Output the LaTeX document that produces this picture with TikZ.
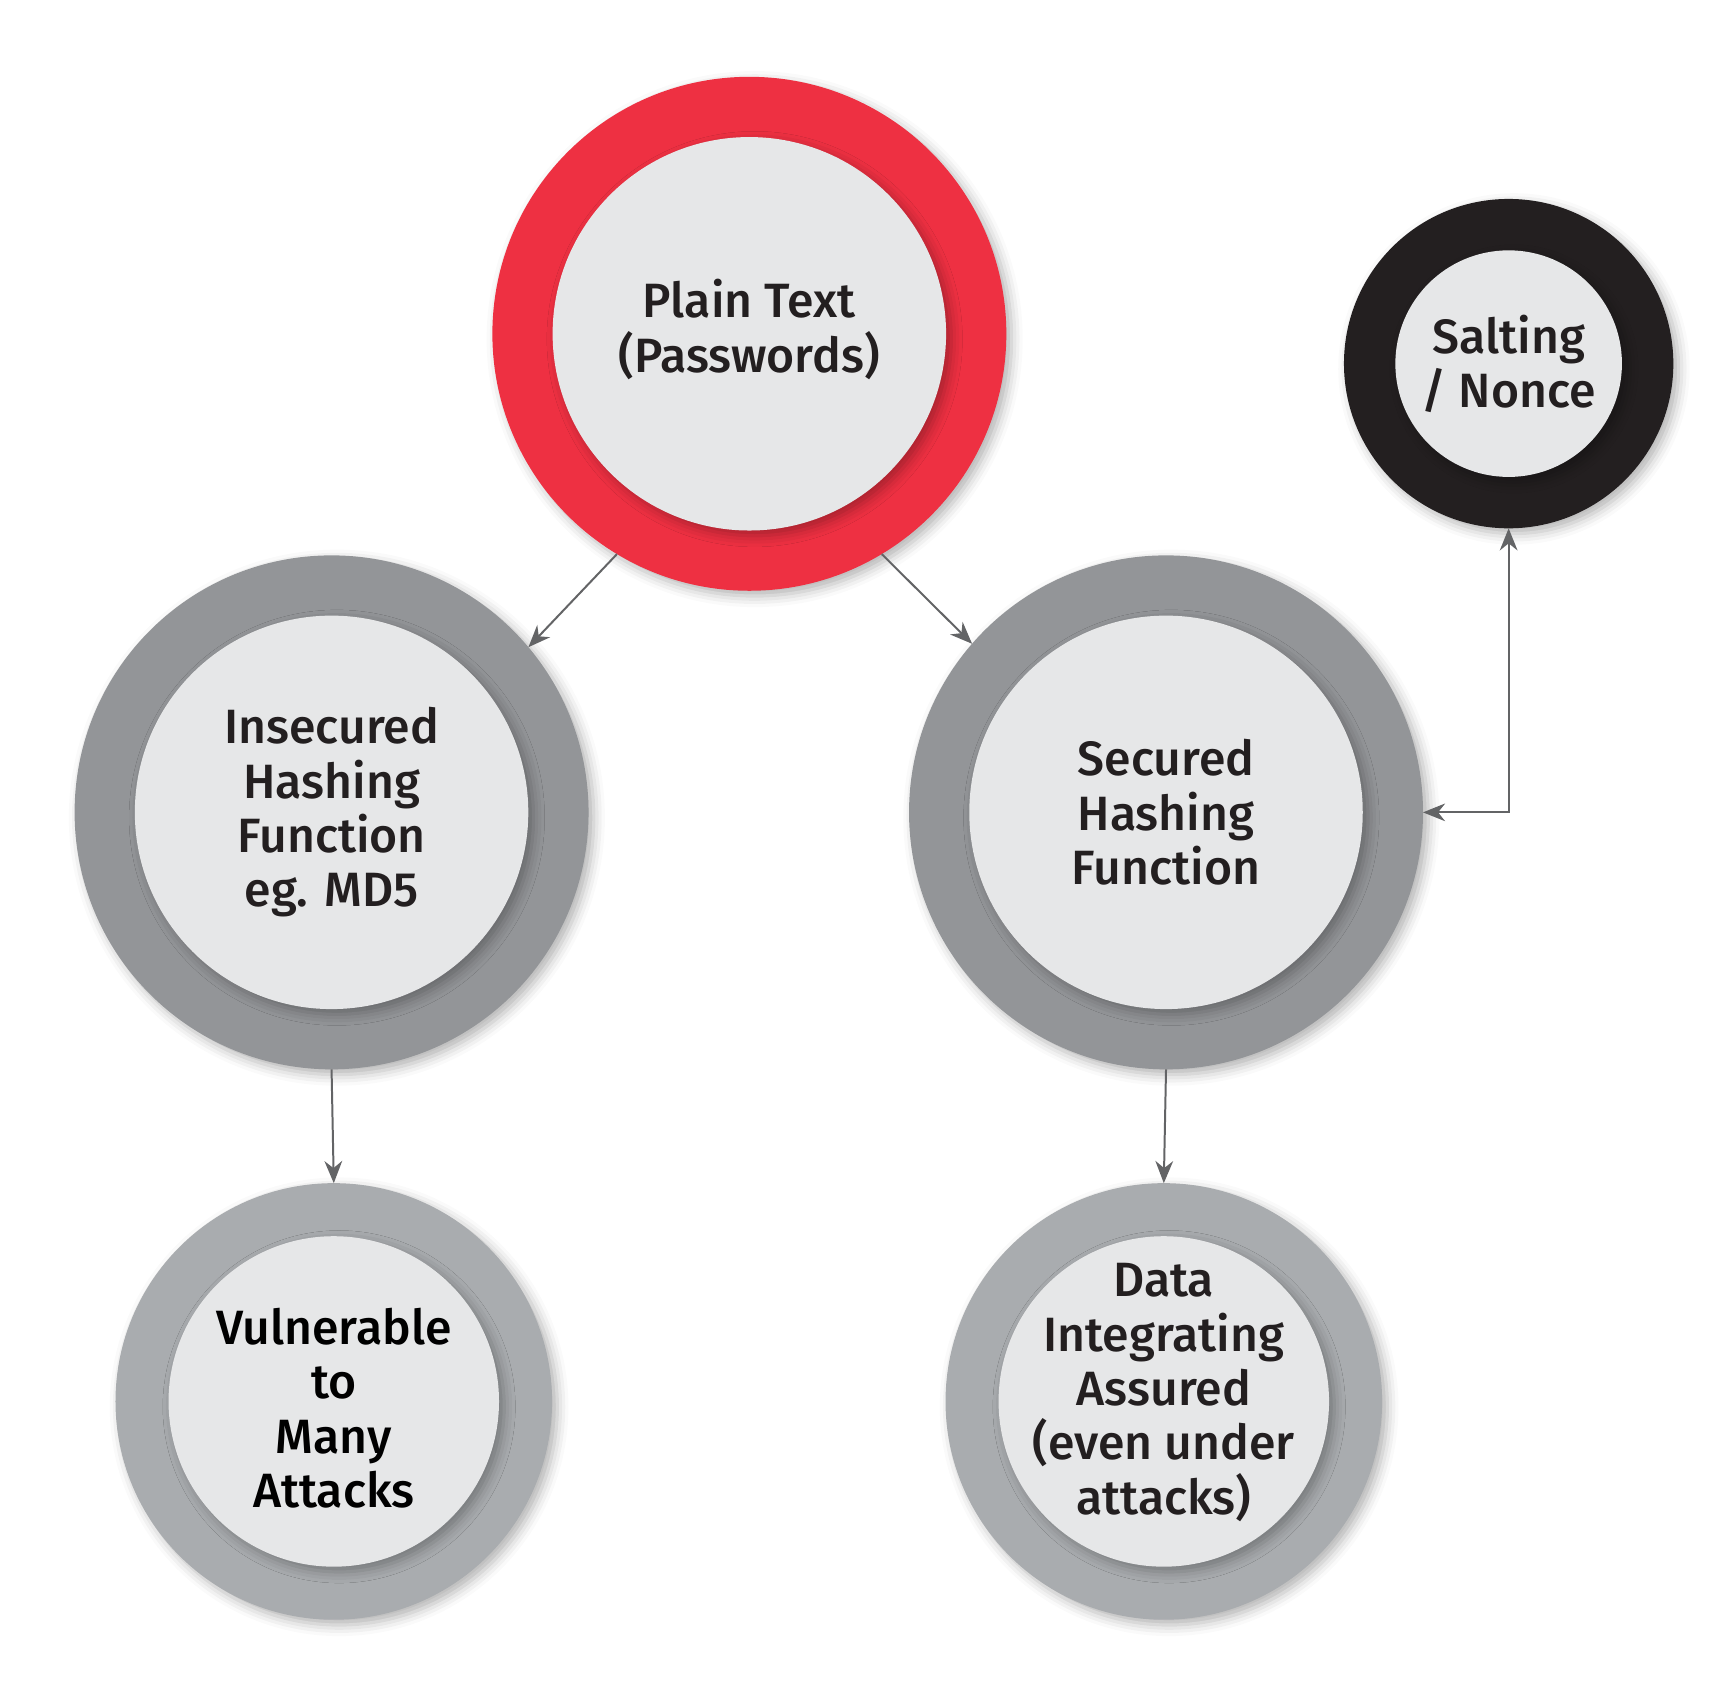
\documentclass[tikz,border=0pt]{standalone}
\usepackage{fontspec}
\setmainfont{Fira Sans}[UprightFont={* Medium}]
\usepackage{tikz}
\usetikzlibrary{arrows.meta,shadows.blur}
\definecolor{ringred}{HTML}{EE3042}
\definecolor{ringblack}{HTML}{231F20}
\definecolor{ringgrey}{HTML}{939598}
\definecolor{ringlight}{HTML}{A9ACAF}
\definecolor{core}{HTML}{E6E7E8}
\definecolor{ink}{HTML}{231F20}
\definecolor{wire}{HTML}{636466}

\begin{document}
\begin{tikzpicture}[x=0.25mm, y=-0.25mm,
  >={Stealth[length=5mm,width=4mm,inset=1.6mm]},
  ring/.style={circle,inner sep=0pt,outer sep=0pt,
    blur shadow={shadow xshift=1.2mm,shadow yshift=-1.2mm,shadow blur radius=2.5mm,shadow opacity=30}},
  big/.style={ring,minimum size=116.25mm}, small/.style={ring,minimum size=98.75mm},
  hole/.style={ring,fill=core},
  bighole/.style={hole,minimum size=89mm}, smallhole/.style={hole,minimum size=74.75mm},
  lbl/.style={align=center,text=ink,inner sep=0pt,font=\fontsize{31}{35}\selectfont},
  link/.style={draw=wire,line width=0.45mm}]
  \useasboundingbox (0,0) rectangle (1568,1531);
  % outer rings
  \node[big,fill=ringred] (plain) at (678,302) {};
  \node[ring,fill=ringblack,minimum size=74.5mm] (salt) at (1365,329) {};
  \node[big,fill=ringgrey] (insec) at (300,735) {};
  \node[big,fill=ringgrey] (sec) at (1055,735) {};
  \node[small,fill=ringlight] (vuln) at (302,1268) {};
  \node[small,fill=ringlight] (data) at (1053,1268) {};
  % inner discs
  \node[bighole] (plainin) at (plain) {};
  \node[hole,minimum size=51.25mm] (saltin) at (salt) {};
  \node[bighole] (insecin) at (insec) {};
  \node[bighole] (secin) at (sec) {};
  \node[smallhole] (vulnin) at (vuln) {};
  \node[smallhole] (datain) at (data) {};
  % texts
  \node[lbl] (plaintxt) at (678,298) {Plain Text\\(Passwords)};
  \node[lbl] (salttxt) at (saltin) {Salting\\/ Nonce};
  \node[lbl] (insectxt) at (insecin) {Insecured\\Hashing\\Function\\eg. MD5};
  \node[lbl] (sectxt) at (secin) {Secured\\Hashing\\Function};
  \node[lbl,text=black] (vulntxt) at (302,1274) {Vulnerable\\to\\Many\\Attacks};
  \node[lbl] (datatxt) at (1053,1260) {Data\\Integrating\\Assured\\(even under\\attacks)};
  % connectors
  \draw[link,->] (plain.239) -- (insec.40);
  \draw[link,->] (plain.301) -- (sec.139);
  \draw[link,->] (insec.south) -- (vuln.north);
  \draw[link,->] (sec.south) -- (data.north);
  \draw[link,<->] (salt.south) |- (sec.east);
\end{tikzpicture}
\end{document}
